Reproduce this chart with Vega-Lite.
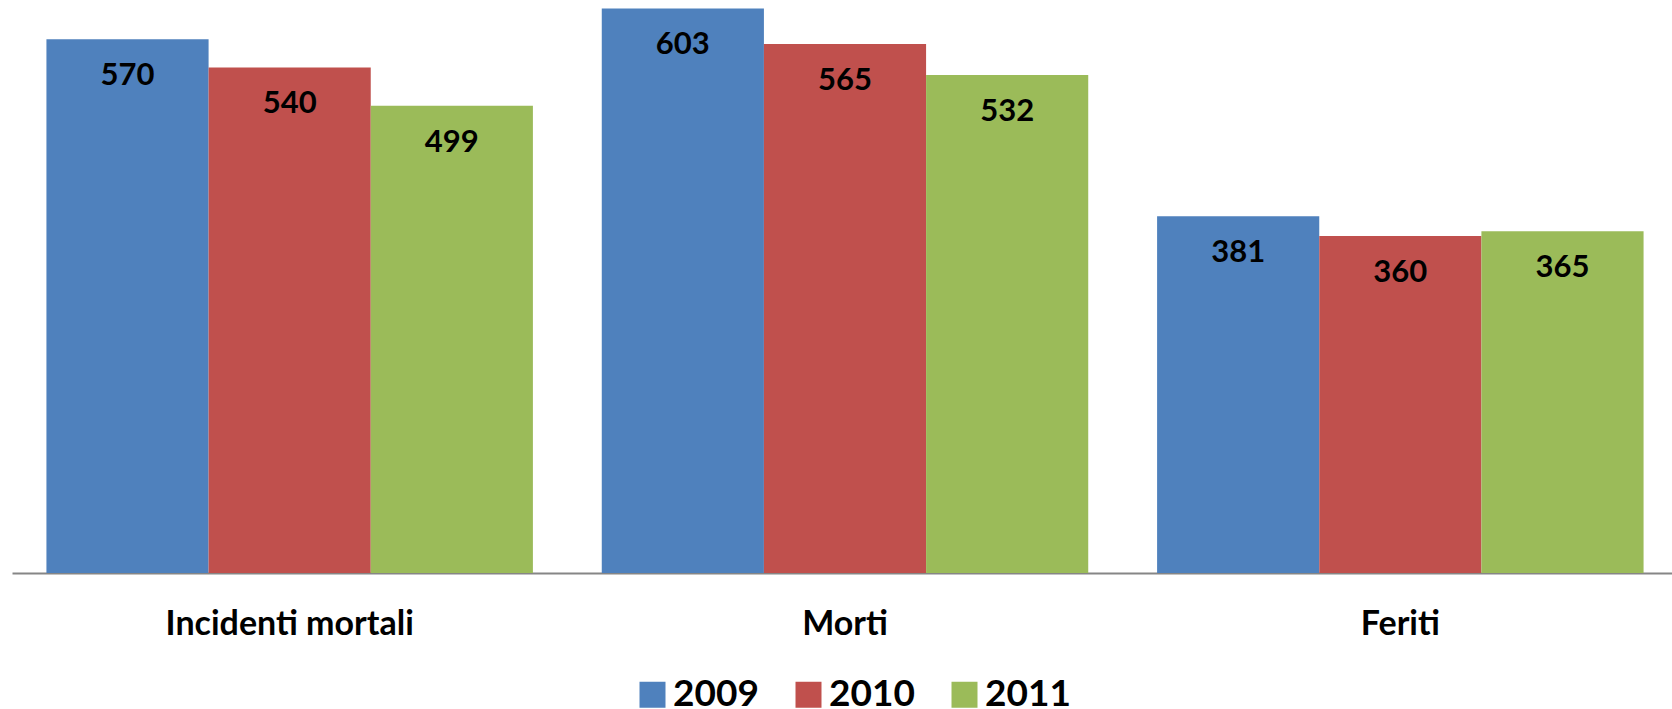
{
  "$schema": "https://vega.github.io/schema/vega-lite/v6.json",
  "autosize": {"type": "none"},
  "width": 1666,
  "height": 573,
  "padding": {"left": 12, "top": 0, "right": 0, "bottom": 136},
  "background": "white",
  "config": {"view": {"stroke": null}, "font": "Lato"},
  "data": {
    "values": [
      {"categoria": "Incidenti mortali", "anno": "2009", "valore": 570},
      {"categoria": "Incidenti mortali", "anno": "2010", "valore": 540},
      {"categoria": "Incidenti mortali", "anno": "2011", "valore": 499},
      {"categoria": "Morti", "anno": "2009", "valore": 603},
      {"categoria": "Morti", "anno": "2010", "valore": 565},
      {"categoria": "Morti", "anno": "2011", "valore": 532},
      {"categoria": "Feriti", "anno": "2009", "valore": 381},
      {"categoria": "Feriti", "anno": "2010", "valore": 360},
      {"categoria": "Feriti", "anno": "2011", "valore": 365}
    ]
  },
  "encoding": {
    "x": {
      "field": "categoria",
      "type": "nominal",
      "sort": ["Incidenti mortali", "Morti", "Feriti"],
      "scale": {"paddingInner": 0.124, "paddingOuter": 0.062},
      "axis": {
        "title": null,
        "labelAngle": 0,
        "ticks": false,
        "domainColor": "#868686",
        "domainWidth": 2,
        "labelFont": "Lato",
        "labelFontWeight": "bold",
        "labelFontSize": 34,
        "labelColor": "black",
        "labelBaseline": "middle",
        "labelPadding": 51,
        "labelLimit": 0
      }
    },
    "xOffset": {"field": "anno", "type": "nominal", "sort": ["2009", "2010", "2011"], "scale": {"paddingInner": 0, "paddingOuter": 0}},
    "y": {
      "field": "valore",
      "type": "quantitative",
      "scale": {"domain": [0, 612], "nice": false, "zero": true},
      "axis": null
    }
  },
  "layer": [
    {
      "mark": {"type": "bar"},
      "encoding": {
        "color": {
          "field": "anno",
          "type": "nominal",
          "scale": {"domain": ["2009", "2010", "2011"], "range": ["#4F81BD", "#C0504D", "#9BBB59"]},
          "legend": {
            "title": null,
            "orient": "none",
            "direction": "horizontal",
            "legendX": 622,
            "legendY": 676,
            "padding": 0,
            "symbolType": "square",
            "symbolSize": 676,
            "symbolStrokeWidth": 0,
            "labelFont": "Lato",
            "labelFontWeight": "bold",
            "labelFontSize": 37,
            "labelColor": "black",
            "labelOffset": 2,
            "labelLimit": 0,
            "columnPadding": 31
          }
        }
      }
    },
    {
      "mark": {"type": "text", "dy": 37, "baseline": "middle", "align": "center", "font": "Lato", "fontWeight": "bold", "fontSize": 31, "color": "black"},
      "encoding": {"text": {"field": "valore", "type": "quantitative"}}
    }
  ]
}
